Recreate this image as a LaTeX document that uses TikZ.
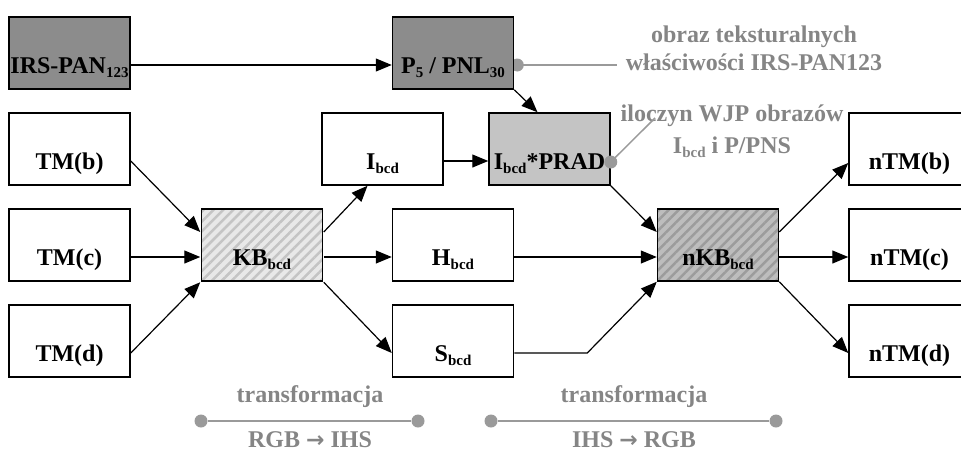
\documentclass[tikz,border=0pt]{standalone}
\usepackage{fontspec}
\setmainfont{Liberation Serif}
\newfontfamily\arrowfont{DejaVu Sans}
\usepackage{xcolor}
\usetikzlibrary{positioning,calc,arrows.meta,patterns.meta,backgrounds}
\definecolor{boxdark}{HTML}{8C8C8C}
\definecolor{boxlight}{HTML}{C4C4C4}
\definecolor{kbback}{HTML}{E8E8E8}
\definecolor{kbline}{HTML}{C4C4C4}
\definecolor{nkbback}{HTML}{BDBDBD}
\definecolor{nkbline}{HTML}{9C9C9C}
\definecolor{gtext}{HTML}{858585}
\definecolor{gline}{HTML}{9A9A9A}
\newcommand\lowsub[1]{\raisebox{-0.35ex}{\fontsize{15}{15}\selectfont #1}}
\newcommand\toarrow{{\arrowfont\fontsize{22}{22}\selectfont →}}

\begin{document}
\begin{tikzpicture}[x=1pt, y=-1pt, font=\bfseries\fontsize{24}{28}\selectfont,
    box/.style={draw, line width=1.5pt, minimum width=121pt, minimum height=72pt, inner sep=0pt, text height=41pt, text depth=0pt},
    plainbox/.style={box, fill=white},
    darkbox/.style={box, fill=boxdark},
    lightbox/.style={box, fill=boxlight},
    kbbox/.style={box, preaction={fill=kbback}, pattern={Lines[angle=45, distance=7pt, line width=2.5pt]}, pattern color=kbline},
    nkbbox/.style={box, preaction={fill=nkbback}, pattern={Lines[angle=45, distance=7pt, line width=2.5pt]}, pattern color=nkbline},
    arr/.style={-{Triangle[length=16pt, width=13pt]}, line width=1.2pt},
    gline/.style={draw=gline, line width=1.5pt},
    dot/.style={circle, fill=gline, inner sep=0pt, minimum size=13pt},
    note/.style={text=gtext, align=center}]
    \clip (0,0) rectangle (961,453);

    \node [darkbox] (irs) at (69.5,53) {IRS-PAN\lowsub{123}};
    \node [darkbox] (pnl) at (453,53) {P\lowsub{5} / PNL\lowsub{30}};
    \node [plainbox] (tmb) at (69.5,149) {TM(b)};
    \node [plainbox] (tmc) at (69.5,245) {TM(c)};
    \node [plainbox] (tmd) at (69.5,341) {TM(d)};
    \node [kbbox] (kb) at (262,245) {KB\lowsub{bcd}};
    \node [plainbox] (ibcd) at (382.5,149) {I\lowsub{bcd}};
    \node [plainbox] (hbcd) at (453,245) {H\lowsub{bcd}};
    \node [plainbox] (sbcd) at (453,341) {S\lowsub{bcd}};
    \node [lightbox] (iprad) at (549.5,149) {I\lowsub{bcd}*PRAD};
    \node [nkbbox] (nkb) at (718,245) {nKB\lowsub{bcd}};
    \node [plainbox] (ntmb) at (909.5,149) {nTM(b)};
    \node [plainbox] (ntmc) at (909.5,245) {nTM(c)};
    \node [plainbox] (ntmd) at (909.5,341) {nTM(d)};

    \draw [arr] ($(irs.east)+(0,12)$) -- ($(pnl.west)+(0,12)$);
    \draw [arr] (pnl.south east) -- ($(iprad.north)+(-12,0)$);
    \draw [arr] ($(ibcd.east)+(0,12)$) -- ($(iprad.west)+(0,12)$);
    \draw [arr] (iprad.south east) -- ($(nkb.west)+(0,-13)$);
    \draw [arr] ($(tmb.east)+(0,12)$) -- ($(kb.west)+(0,-13)$);
    \draw [arr] ($(tmc.east)+(0,12)$) -- ($(kb.west)+(0,12)$);
    \draw [arr] ($(tmd.east)+(0,12)$) -- (kb.south west);
    \draw [arr] ($(kb.east)+(0,-13)$) -- ($(ibcd.south)+(-15,0)$);
    \draw [arr] ($(kb.east)+(0,12)$) -- ($(hbcd.west)+(0,12)$);
    \draw [arr] (kb.south east) -- ($(sbcd.west)+(0,12)$);
    \draw [arr] ($(hbcd.east)+(0,12)$) -- ($(nkb.west)+(0,12)$);
    \draw [arr] ($(sbcd.east)+(0,12)$) -- ++(73,0) -- (nkb.south west);
    \draw [arr] ($(nkb.east)+(0,-13)$) -- ($(ntmb.west)+(0,14)$);
    \draw [arr] ($(nkb.east)+(0,12)$) -- ($(ntmc.west)+(0,12)$);
    \draw [arr] (nkb.south east) -- ($(ntmd.west)+(0,12)$);

    \node [note] (obraz) at (754,48) {obraz teksturalnych\\właściwości IRS-PAN123};
    \coordinate (obrazend) at (617,65);
    \begin{scope}[on background layer]
        \node [dot] (pnldot) at ($(pnl.east)+(3,12)$) {};
        \draw [gline] (pnldot.center) -- (obrazend);
    \end{scope}

    \node [note] (iloczyn) at (732,131) {iloczyn WJP obrazów\\[4pt]I\lowsub{bcd} i P/PNS};
    \coordinate (iloczynend) at (655,118);
    \node [dot] (ipraddot) at ($(iprad.east)+(0,13)$) {};
    \draw [gline] (ipraddot.center) -- (iloczynend);

    \node [dot] (rgba) at (201,421) {};
    \node [dot] (rgbb) at (418,421) {};
    \draw [gline] (rgba) -- (rgbb);
    \node [note] (transa) at (310,397) {transformacja};
    \node [note] (rgbihs) at (310,440) {RGB \toarrow\ IHS};

    \node [dot] (ihsa) at (491,421) {};
    \node [dot] (ihsb) at (776,421) {};
    \draw [gline] (ihsa) -- (ihsb);
    \node [note] (transb) at (634,397) {transformacja};
    \node [note] (ihsrgb) at (634,440) {IHS \toarrow\ RGB};
\end{tikzpicture}
\end{document}
